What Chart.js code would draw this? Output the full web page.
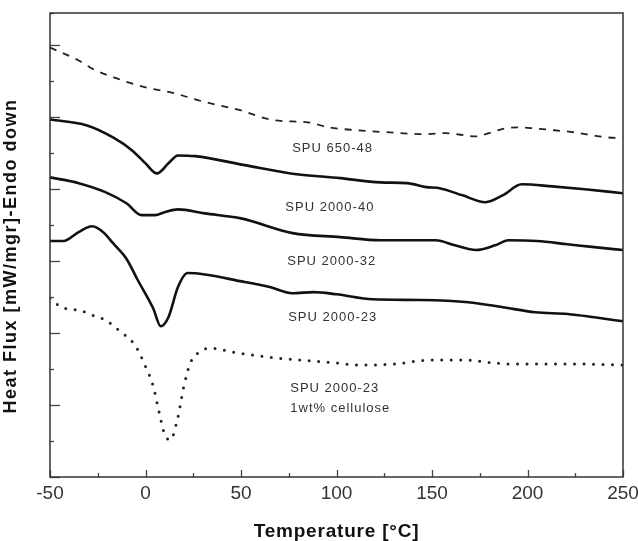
<!DOCTYPE html>
<html>
<head>
<meta charset="utf-8">
<script src="https://cdn.jsdelivr.net/npm/chart.js@4/dist/chart.umd.min.js"></script>
<style>
  html, body { margin: 0; padding: 0; background: #fff; }
  #wrap { width: 638px; height: 541px; }
</style>
</head>
<body>
<div id="wrap"><canvas id="dsc" width="638" height="541"></canvas></div>
<script>
// DSC curves, heat flux in arbitrary units (curves are offset vertically)
const temp650 = [-50, -35, -27, -15, 0, 15, 30, 50, 67, 85, 96, 111, 128, 147, 157, 173, 181, 188, 196, 204, 214, 225, 234, 242, 250];
const flux650 = [11.94, 11.58, 11.33, 11.08, 10.83, 10.67, 10.44, 10.19, 9.92, 9.86, 9.72, 9.64, 9.58, 9.53, 9.56, 9.47, 9.58, 9.69, 9.72, 9.69, 9.64, 9.58, 9.5, 9.44, 9.42];

const temp2040 = [-50, -31, -17, -7, 0, 6, 12, 17, 26, 52, 76, 102, 123, 137, 147, 154, 166, 178, 187, 197, 213, 230, 250];
const flux2040 = [9.94, 9.78, 9.44, 9.08, 8.72, 8.44, 8.72, 8.94, 8.92, 8.67, 8.44, 8.31, 8.19, 8.17, 8.06, 8.03, 7.83, 7.64, 7.83, 8.14, 8.08, 8.0, 7.89];

const temp2032 = [-50, -35, -21, -10, -2, 5, 10, 17, 31, 50, 77, 102, 123, 152, 162, 173, 183, 190, 205, 221, 235, 250];
const flux2032 = [8.33, 8.17, 7.92, 7.61, 7.28, 7.28, 7.36, 7.44, 7.33, 7.19, 6.78, 6.67, 6.58, 6.58, 6.44, 6.31, 6.44, 6.58, 6.56, 6.47, 6.39, 6.31];

const temp2023 = [-50, -43, -35, -28, -22, -17, -10, -4, 4, 8, 12, 17, 22, 52, 65, 77, 88, 100, 119, 144, 169, 187, 204, 221, 235, 250];
const flux2023 = [6.56, 6.56, 6.81, 6.97, 6.8, 6.5, 6.07, 5.47, 4.69, 4.19, 4.44, 5.28, 5.67, 5.42, 5.28, 5.11, 5.14, 5.08, 4.94, 4.92, 4.86, 4.72, 4.58, 4.53, 4.44, 4.33];

const tempCell = [-50, -44, -39, -33, -28, -22, -17, -13, -8, -4, -1, 4, 7, 10, 13, 17, 20, 23.5, 28, 34, 46, 65, 81, 100, 112, 130, 149, 169, 179, 193, 225, 250];
const fluxCell = [4.97, 4.72, 4.67, 4.61, 4.5, 4.39, 4.22, 4.03, 3.83, 3.53, 3.19, 2.53, 1.83, 1.19, 1.03, 1.67, 2.5, 3.17, 3.47, 3.58, 3.47, 3.33, 3.25, 3.17, 3.11, 3.14, 3.25, 3.25, 3.19, 3.14, 3.14, 3.11];

const xTicksLabelled = [-50, 0, 50, 100, 150, 200, 250];

function pts(xs, ys) {
  return xs.map((t, i) => ({ x: t, y: ys[i] }));
}

// curve labels written inside the plot, in data units
const curveNotes = [
  { text: "SPU 650-48", x: 76.8, y: 9.14 },
  { text: "SPU 2000-40", x: 73.2, y: 7.5 },
  { text: "SPU 2000-32", x: 74.2, y: 6.0 },
  { text: "SPU 2000-23", x: 74.7, y: 4.44 },
  { text: "SPU 2000-23", x: 75.8, y: 2.47 },
  { text: "1wt% cellulose", x: 75.8, y: 1.92 }
];

const framePlugin = {
  id: "frame",
  afterDatasetsDraw(chart) {
    const ctx = chart.ctx;
    const a = chart.chartArea;
    const xs = chart.scales.x;
    const ys = chart.scales.y;

    ctx.save();
    // inward tick marks
    ctx.strokeStyle = "#444";
    ctx.lineWidth = 1.3;
    xs.ticks.forEach(t => {
      const px = Math.round(xs.getPixelForValue(t.value)) + 0.5;
      const len = t.value % 50 === 0 ? 7 : 4;
      ctx.beginPath();
      ctx.moveTo(px, a.bottom);
      ctx.lineTo(px, a.bottom - len);
      ctx.stroke();
    });
    ys.ticks.forEach(t => {
      const py = Math.round(ys.getPixelForValue(t.value)) + 0.5;
      const len = t.value % 2 === 0 ? 10 : 4;
      ctx.beginPath();
      ctx.moveTo(a.left, py);
      ctx.lineTo(a.left + len, py);
      ctx.stroke();
    });

    // plot box
    ctx.lineWidth = 1.5;
    ctx.strokeStyle = "#333";
    ctx.strokeRect(a.left, a.top, a.right - a.left, a.bottom - a.top);

    // curve labels
    ctx.fillStyle = "#333";
    ctx.font = "13px 'Liberation Sans', Arial, sans-serif";
    ctx.letterSpacing = "1px";
    ctx.textAlign = "left";
    ctx.textBaseline = "middle";
    curveNotes.forEach(n => {
      ctx.fillText(n.text, xs.getPixelForValue(n.x), ys.getPixelForValue(n.y));
    });

    // axis titles
    ctx.fillStyle = "#111";
    ctx.textBaseline = "alphabetic";
    ctx.textAlign = "center";
    ctx.font = "bold 19px 'Liberation Sans', Arial, sans-serif";
    ctx.letterSpacing = "0.8px";
    ctx.fillText("Temperature [°C]", (a.left + a.right) / 2, 537);

    ctx.font = "bold 18px 'Liberation Sans', Arial, sans-serif";
    ctx.letterSpacing = "1.5px";
    ctx.translate(16, 256);
    ctx.rotate(-Math.PI / 2);
    ctx.fillText("Heat Flux [mW/mgr]-Endo down", 0, 0);
    ctx.restore();
  }
};

const solid = { borderColor: "#111", borderWidth: 2.6, pointRadius: 0, fill: false, cubicInterpolationMode: "monotone" };

new Chart(document.getElementById("dsc"), {
  type: "line",
  data: {
    datasets: [
      { label: "SPU 650-48", data: pts(temp650, flux650), borderColor: "#222", borderWidth: 1.8, borderDash: [7, 7], pointRadius: 0, fill: false, cubicInterpolationMode: "monotone" },
      Object.assign({ label: "SPU 2000-40", data: pts(temp2040, flux2040) }, solid),
      Object.assign({ label: "SPU 2000-32", data: pts(temp2032, flux2032) }, solid),
      Object.assign({ label: "SPU 2000-23", data: pts(temp2023, flux2023) }, solid),
      { label: "SPU 2000-23 1wt% cellulose", data: pts(tempCell, fluxCell), borderColor: "#222", borderWidth: 3, borderDash: [0, 9.5], borderCapStyle: "round", pointRadius: 0, fill: false, cubicInterpolationMode: "monotone" }
    ]
  },
  options: {
    responsive: false,
    animation: false,
    layout: { padding: { top: 13, right: 15, left: 0, bottom: 0 } },
    plugins: { legend: { display: false }, tooltip: { enabled: false } },
    scales: {
      x: {
        type: "linear",
        min: -50,
        max: 250,
        grid: { display: false, drawTicks: false },
        border: { display: false },
        ticks: {
          stepSize: 25,
          autoSkip: false,
          maxRotation: 0,
          padding: 5,
          color: "#333",
          font: { family: "'Liberation Sans', Arial, sans-serif", size: 19 },
          callback: v => (xTicksLabelled.includes(v) ? String(v) : "")
        },
        afterFit: s => {
          s.height = 64;
          // let the end labels overhang the plot box
          s.paddingLeft = 0;
          s.paddingRight = 0;
        }
      },
      y: {
        min: 0,
        max: 12.9,
        grid: { display: false, drawTicks: false },
        border: { display: false },
        ticks: { display: false, stepSize: 1 },
        afterFit: s => { s.width = 50; }
      }
    }
  },
  plugins: [framePlugin]
});
</script>
</body>
</html>
